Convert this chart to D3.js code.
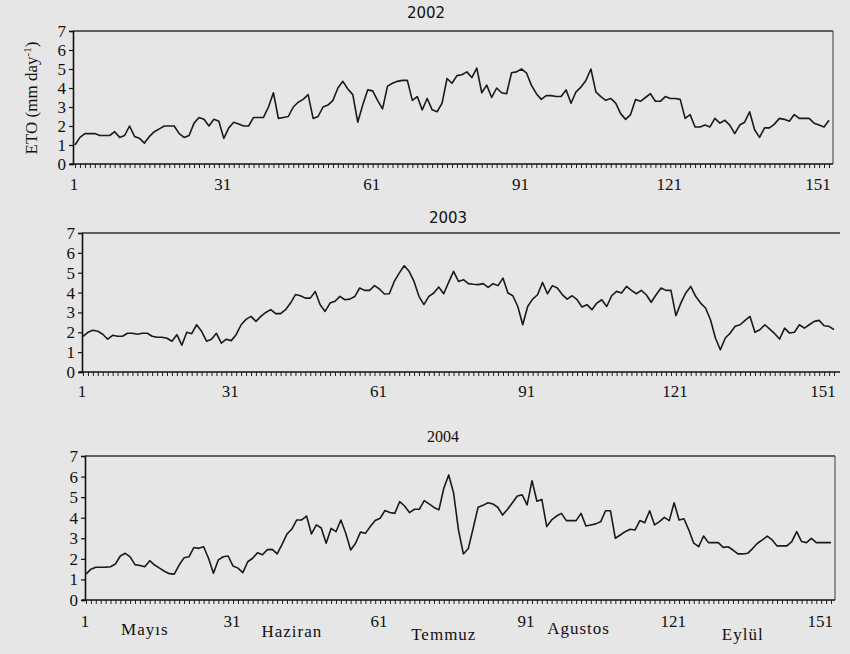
<!DOCTYPE html>
<html>
<head>
<meta charset="utf-8">
<script src="https://cdn.jsdelivr.net/npm/d3@7"></script>
<style>
  body { margin: 0; background: #e6e6e6; }
  svg { display: block; }
  .lbl { font-family: "Liberation Serif", "DejaVu Serif", serif; fill: #111; }
  .ttl { font-family: "DejaVu Sans", "Liberation Sans", sans-serif; fill: #111; }
</style>
</head>
<body>
<svg></svg>
<script>
// Yillar
const years = ["2002", "2003", "2004"];

// Gunluk ETO degerleri (1 Mayis - 30 Eylul)
const eto2002 = [
  1.0, 1.4, 1.6, 1.6, 1.6, 1.5, 1.5, 1.5, 1.7, 1.4,
  1.5, 2.0, 1.45, 1.35, 1.1, 1.45, 1.7, 1.85, 2.0, 2.0,
  2.0, 1.6, 1.4, 1.5, 2.15, 2.45, 2.35, 2.0, 2.35, 2.25,
  1.35, 1.9, 2.2, 2.1, 2.0, 2.0, 2.45, 2.45, 2.45, 3.0,
  3.75, 2.4, 2.45, 2.5, 3.0, 3.25, 3.4, 3.65, 2.4, 2.5,
  3.0, 3.1, 3.35, 4.0, 4.35, 3.95, 3.65, 2.2, 3.1, 3.9,
  3.85, 3.35, 2.9, 4.1, 4.25, 4.35, 4.4, 4.4, 3.35, 3.55,
  2.85, 3.45, 2.85, 2.75, 3.2, 4.5, 4.25, 4.65, 4.7, 4.85,
  4.55, 5.05, 3.75, 4.15, 3.5, 4.0, 3.75, 3.7, 4.8, 4.85,
  5.0, 4.8, 4.15, 3.7, 3.4, 3.6, 3.6, 3.55, 3.55, 3.9,
  3.2, 3.8, 4.05, 4.4, 5.0, 3.8, 3.55, 3.35, 3.45, 3.2,
  2.65, 2.35, 2.6, 3.4, 3.3, 3.5, 3.7, 3.3, 3.3, 3.55,
  3.45, 3.45, 3.4, 2.4, 2.6, 1.95, 1.95, 2.05, 1.95, 2.4,
  2.15, 2.3, 2.05, 1.6, 2.05, 2.2, 2.75, 1.8, 1.4, 1.9,
  1.9, 2.1, 2.4, 2.35, 2.25, 2.6, 2.4, 2.4, 2.4, 2.15,
  2.05, 1.95, 2.3
];

const eto2003 = [
  1.8, 2.0, 2.1, 2.05, 1.9, 1.65, 1.85, 1.8, 1.8, 1.95,
  1.95, 1.9, 1.95, 1.95, 1.8, 1.75, 1.75, 1.7, 1.55, 1.88,
  1.35, 2.0, 1.93, 2.38, 2.05, 1.55, 1.65, 1.95, 1.45, 1.65,
  1.58, 1.88, 2.38, 2.65, 2.8, 2.55, 2.8, 3.0, 3.14, 2.94,
  2.94, 3.14, 3.47, 3.9, 3.84, 3.72, 3.72, 4.05, 3.39, 3.05,
  3.47, 3.56, 3.81, 3.64, 3.67, 3.8, 4.23, 4.11, 4.11, 4.35,
  4.18, 3.93, 3.94, 4.56, 4.98, 5.35, 5.07, 4.56, 3.81, 3.39,
  3.81, 3.98, 4.28, 3.94, 4.51, 5.07, 4.56, 4.65, 4.45, 4.42,
  4.4, 4.45, 4.26, 4.45, 4.35, 4.73, 3.98, 3.84, 3.3, 2.38,
  3.3, 3.67, 3.89, 4.51, 3.94, 4.35, 4.23, 3.9, 3.67, 3.84,
  3.64, 3.27, 3.39, 3.14, 3.47, 3.64, 3.3, 3.84, 4.06, 3.98,
  4.31, 4.11, 3.94, 4.11, 3.89, 3.51, 3.89, 4.23, 4.11, 4.11,
  2.84, 3.47, 3.98, 4.31, 3.81, 3.47, 3.22, 2.63, 1.71, 1.12,
  1.71, 1.96, 2.3, 2.38, 2.6, 2.8, 2.0, 2.13, 2.38, 2.16,
  1.93, 1.66, 2.21, 1.96, 2.0, 2.38, 2.21, 2.38, 2.55, 2.6,
  2.33, 2.3, 2.13
];

const eto2004 = [
  1.26, 1.5, 1.59, 1.59, 1.6, 1.62, 1.75, 2.14, 2.27, 2.1,
  1.72, 1.68, 1.62, 1.91, 1.7, 1.55, 1.4, 1.28, 1.26, 1.7,
  2.05, 2.1, 2.55, 2.51, 2.59, 2.03, 1.3, 1.95, 2.1, 2.14,
  1.65, 1.55, 1.33, 1.86, 2.03, 2.3, 2.2, 2.45, 2.46, 2.24,
  2.7, 3.2, 3.45, 3.89, 3.89, 4.08, 3.21, 3.65, 3.5, 2.76,
  3.48, 3.32, 3.89, 3.24, 2.43, 2.76, 3.3, 3.24, 3.57, 3.86,
  3.97, 4.35, 4.25, 4.21, 4.78, 4.57, 4.25, 4.41, 4.41, 4.83,
  4.67, 4.5, 4.38, 5.43, 6.08, 5.2, 3.4, 2.24, 2.5, 3.5,
  4.51, 4.6, 4.73, 4.67, 4.51, 4.13, 4.41, 4.73, 5.06, 5.11,
  4.62, 5.8, 4.8, 4.89, 3.57, 3.89, 4.08, 4.21, 3.86, 3.86,
  3.86, 4.21, 3.6, 3.65, 3.7, 3.8, 4.34, 4.34, 3.0, 3.16,
  3.32, 3.44, 3.4, 3.86, 3.76, 4.34, 3.65, 3.81, 4.02, 3.86,
  4.73, 3.89, 3.95, 3.4, 2.76, 2.59, 3.11, 2.79, 2.79, 2.79,
  2.56, 2.59, 2.43, 2.24, 2.24, 2.27, 2.5, 2.76, 2.92, 3.11,
  2.92, 2.63, 2.63, 2.63, 2.84, 3.32, 2.84, 2.79, 3.0, 2.79,
  2.79, 2.79, 2.79
];

// Eksen etiketleri
const xTickLabels = [1, 31, 61, 91, 121, 151];
const yTickLabels = [0, 1, 2, 3, 4, 5, 6, 7];
const months = ["Mayıs", "Haziran", "Temmuz", "Agustos", "Eylül"];
const monthMid = [13, 43, 74, 101.5, 135];

const width = 850;
const height = 654;

const svg = d3.select("svg")
  .attr("width", width)
  .attr("height", height);

// Panel yerlesimi (piksel)
const panels = [
  { year: years[0], values: eto2002, left: 73, right: 833, top: 31, bottom: 164,
    x0: 75, x1: 829, titleY: 18, titleX: 426, tickY: 190, boxRight: true, titleSerif: false },
  { year: years[1], values: eto2003, left: 82, right: 840, top: 233, bottom: 372,
    x0: 83, x1: 834, titleY: 223, titleX: 448, tickY: 397, boxRight: false, titleSerif: false },
  { year: years[2], values: eto2004, left: 85, right: 835, top: 456, bottom: 600,
    x0: 86, x1: 831, titleY: 442, titleX: 443, tickY: 627, boxRight: true, titleSerif: true }
];

panels.forEach((p, pi) => {
  const days = d3.range(1, p.values.length + 1);

  const x = d3.scaleLinear().domain([1, 153]).range([p.x0, p.x1]);
  const y = d3.scaleLinear().domain([0, 7]).range([p.bottom, p.top]);

  const g = svg.append("g");

  // Cerceve
  g.append("line")
    .attr("x1", p.left).attr("x2", p.right)
    .attr("y1", p.top).attr("y2", p.top)
    .attr("stroke", "#333").attr("stroke-width", 1.3);
  if (p.boxRight) {
    g.append("line")
      .attr("x1", p.right).attr("x2", p.right)
      .attr("y1", p.top).attr("y2", p.bottom)
      .attr("stroke", "#555").attr("stroke-width", 1.2);
  }

  // Y ekseni
  const yAxis = g.append("g")
    .attr("transform", `translate(${p.left},0)`)
    .call(d3.axisLeft(y).tickValues(yTickLabels).tickSize(4).tickPadding(3).tickFormat(d3.format("d")));
  yAxis.select(".domain").attr("stroke", "#111").attr("stroke-width", 1.6);
  yAxis.selectAll(".tick line").attr("stroke", "#111").attr("stroke-width", 1.2);
  yAxis.selectAll("text")
    .attr("class", "lbl")
    .style("font-size", "17px")
    .attr("fill", "#111");

  // X ekseni: her gun icin kucuk cizgi
  const xAxis = g.append("g")
    .attr("transform", `translate(0,${p.bottom})`)
    .call(d3.axisBottom(x).tickValues(days).tickSize(4).tickFormat(""));
  xAxis.select(".domain").remove();
  xAxis.selectAll(".tick line").attr("stroke", "#222").attr("stroke-width", 1);
  g.append("line")
    .attr("x1", p.left - 3).attr("x2", p.right)
    .attr("y1", p.bottom).attr("y2", p.bottom)
    .attr("stroke", "#111").attr("stroke-width", 1.6);

  // X etiketleri
  g.selectAll("text.xl")
    .data(xTickLabels)
    .join("text")
    .attr("class", "lbl xl")
    .attr("x", d => x(d) - 1)
    .attr("y", p.tickY)
    .attr("text-anchor", "middle")
    .style("font-size", "17px")
    .text(d => d);

  // Baslik
  g.append("text")
    .attr("class", p.titleSerif ? "lbl" : "ttl")
    .attr("x", p.titleX)
    .attr("y", p.titleY)
    .attr("text-anchor", "middle")
    .style("font-size", p.titleSerif ? "16px" : "15px")
    .text(p.year);

  // ETO cizgisi
  const line = d3.line()
    .x((d, i) => x(days[i]))
    .y(d => y(d));

  g.append("path")
    .datum(p.values)
    .attr("d", line)
    .attr("fill", "none")
    .attr("stroke", "#1a1a1a")
    .attr("stroke-width", 1.6)
    .attr("stroke-linejoin", "round");

  // Ay isimleri (sadece son panel)
  if (pi === 2) {
    const monthY = [635, 637, 640, 634, 640];
    g.selectAll("text.month")
      .data(months)
      .join("text")
      .attr("class", "lbl month")
      .attr("x", (d, i) => x(monthMid[i]))
      .attr("y", (d, i) => monthY[i])
      .attr("text-anchor", "middle")
      .style("font-size", "17px")
      .style("letter-spacing", "1px")
      .text(d => d);
  }
});

// Y ekseni basligi
svg.append("text")
  .attr("class", "lbl")
  .attr("transform", "translate(37,98) rotate(-90)")
  .attr("text-anchor", "middle")
  .style("font-size", "17px")
  .html("ETO (mm day<tspan dy='-6' font-size='11px'>-1</tspan><tspan dy='6'>)</tspan>");
</script>
</body>
</html>
